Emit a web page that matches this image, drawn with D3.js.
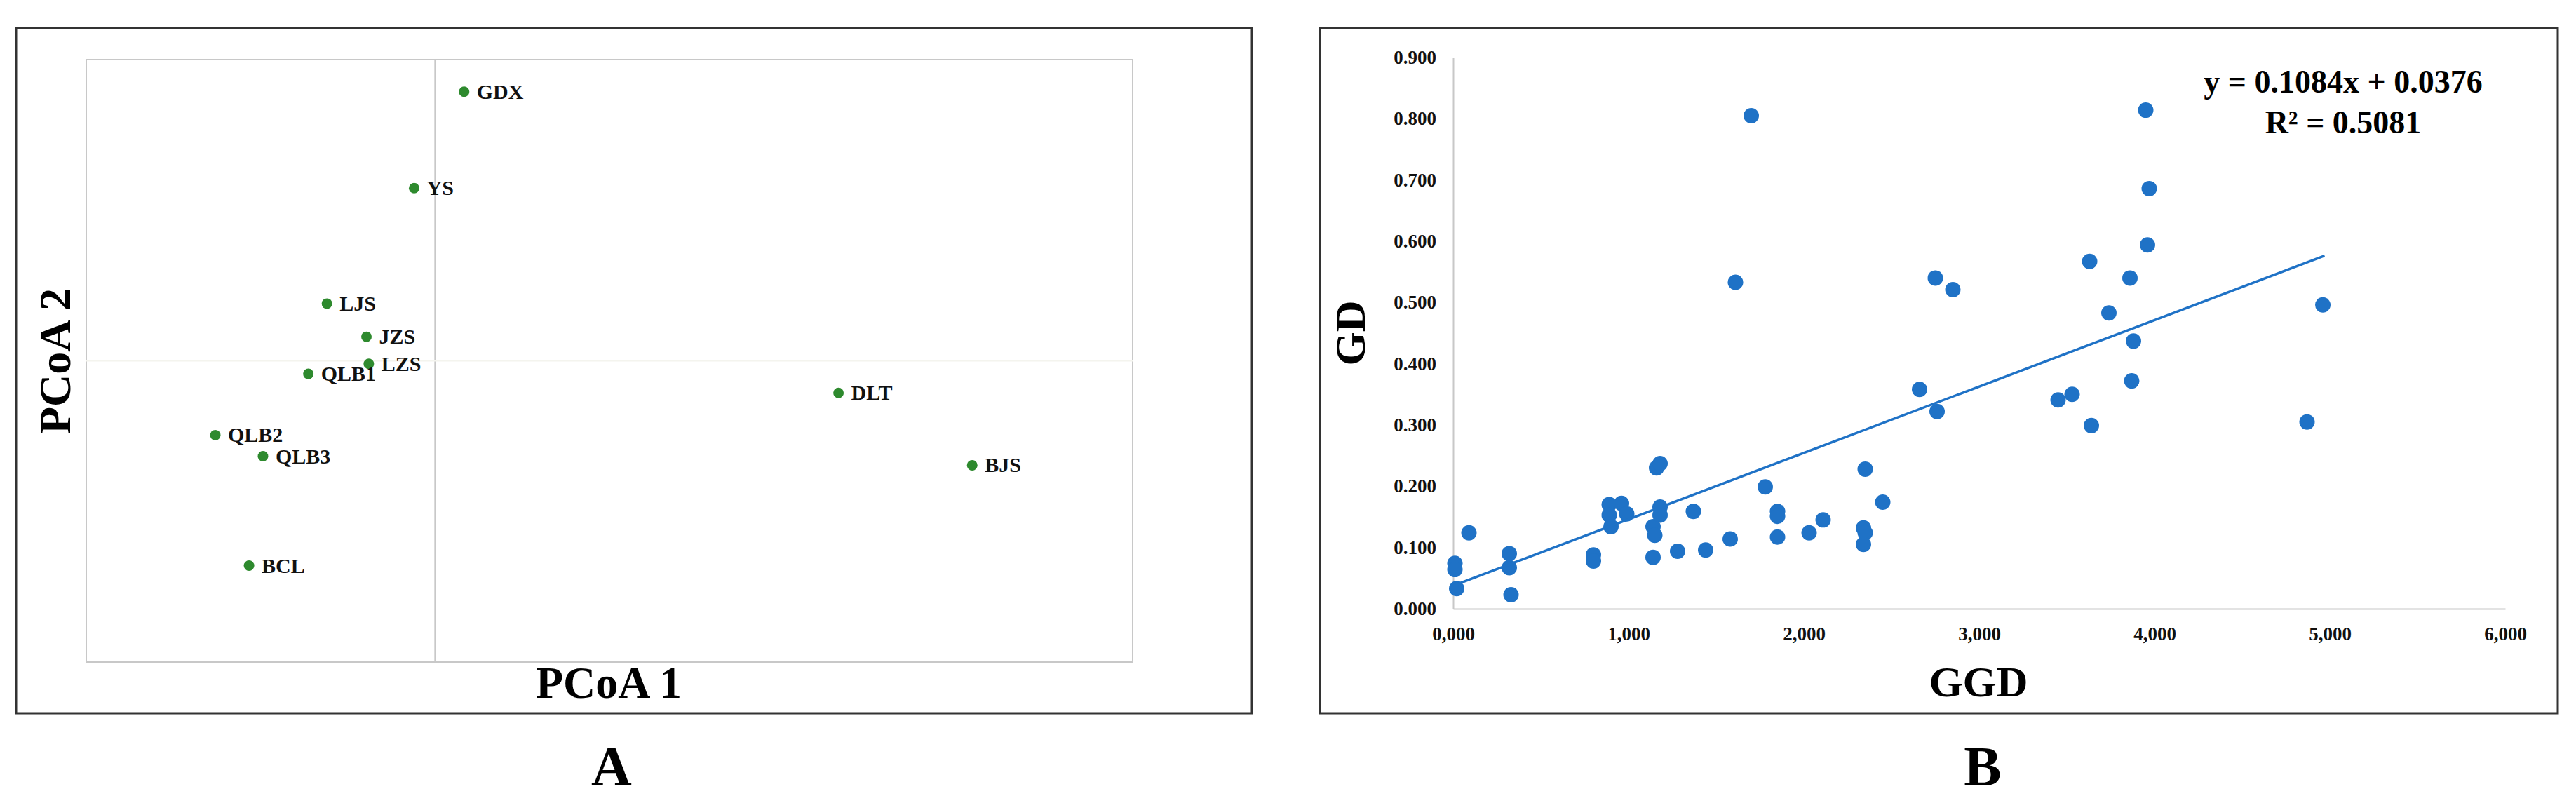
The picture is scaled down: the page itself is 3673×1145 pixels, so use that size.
<!DOCTYPE html>
<html>
<head>
<meta charset="utf-8">
<script src="https://cdn.jsdelivr.net/npm/d3@7"></script>
<style>
  body { margin: 0; background: #fff; }
  text { font-family: "Liberation Serif", "DejaVu Serif", serif; font-weight: bold; }
</style>
</head>
<body>
<svg id="chart" width="3673" height="1145"></svg>
<script>
// Panel A: PCoA coordinates
const sites = ["GDX", "YS", "LJS", "JZS", "LZS", "QLB1", "DLT", "QLB2", "QLB3", "BJS", "BCL"];
const pcoa1 = [0.025, -0.018, -0.093, -0.059, -0.057, -0.109, 0.347, -0.189, -0.148, 0.462, -0.160];
const pcoa2 = [0.268, 0.172, 0.057, 0.024, -0.003, -0.013, -0.032, -0.074, -0.095, -0.104, -0.204];

// Panel B: GGD vs GD
const ggd = [0.01, 0.01, 0.02, 0.09, 0.32, 0.32, 0.33, 0.80, 0.80, 0.89, 0.89, 0.90, 0.96, 0.99,
  1.14, 1.14, 1.15, 1.16, 1.18, 1.18, 1.18, 1.28, 1.37, 1.44, 1.58, 1.61, 1.70, 1.78, 1.85, 1.85,
  1.85, 2.03, 2.11, 2.34, 2.35, 2.34, 2.35, 2.45, 2.66, 2.76, 2.75, 2.85, 3.45, 3.53, 3.63, 3.64,
  3.74, 3.86, 3.87, 3.88, 3.95, 3.97, 3.96, 4.87, 4.96];
const gd = [0.074, 0.064, 0.033, 0.124, 0.090, 0.067, 0.023, 0.088, 0.078, 0.170, 0.153, 0.134, 0.172, 0.155,
  0.084, 0.134, 0.120, 0.230, 0.237, 0.166, 0.153, 0.094, 0.159, 0.096, 0.114, 0.533, 0.805, 0.199, 0.159, 0.151,
  0.117, 0.124, 0.145, 0.132, 0.124, 0.105, 0.228, 0.174, 0.358, 0.322, 0.540, 0.521, 0.341, 0.350, 0.567, 0.299,
  0.483, 0.540, 0.372, 0.437, 0.814, 0.686, 0.594, 0.305, 0.496];
const xTicks = [0, 1, 2, 3, 4, 5, 6];
const xTickLabels = ["0,000", "1,000", "2,000", "3,000", "4,000", "5,000", "6,000"];
const yTicks = [0, 0.1, 0.2, 0.3, 0.4, 0.5, 0.6, 0.7, 0.8, 0.9];
const yTickLabels = ["0.000", "0.100", "0.200", "0.300", "0.400", "0.500", "0.600", "0.700", "0.800", "0.900"];
const slope = 0.1084, intercept = 0.0376;
const trendRange = [0, 4.97];

const svg = d3.select("#chart");

// outer frames
[[23, 40, 1785, 1017], [1882, 40, 3647, 1017]].forEach(([x0, y0, x1, y1]) => {
    svg.append("rect").attr("x", x0).attr("y", y0).attr("width", x1 - x0).attr("height", y1 - y0)
        .attr("fill", "none").attr("stroke", "#333").attr("stroke-width", 3);
});

// ---- Panel A ----
const ax = d3.scaleLinear().domain([-0.3, 0.6]).range([123, 1615]);
const ay = d3.scaleLinear().domain([-0.3, 0.3]).range([944, 85]);
const gA = svg.append("g");
gA.append("rect").attr("x", 123).attr("y", 85).attr("width", 1615 - 123).attr("height", 944 - 85)
    .attr("fill", "none").attr("stroke", "#c8c8c8").attr("stroke-width", 2);
gA.append("line").attr("x1", ax(0)).attr("x2", ax(0)).attr("y1", 85).attr("y2", 944)
    .attr("stroke", "#c8c8c8").attr("stroke-width", 2);
gA.append("line").attr("x1", 123).attr("x2", 1615).attr("y1", ay(0)).attr("y2", ay(0))
    .attr("stroke", "#f4f4ee").attr("stroke-width", 2);

const ptsA = sites.map((s, i) => ({ s, x: pcoa1[i], y: pcoa2[i] }));
gA.selectAll("circle").data(ptsA).enter().append("circle")
    .attr("cx", d => ax(d.x)).attr("cy", d => ay(d.y)).attr("r", 7.5)
    .attr("fill", "#2e8a2e");
gA.selectAll("text.lab").data(ptsA).enter().append("text")
    .attr("class", "lab")
    .attr("x", d => ax(d.x) + 18).attr("y", d => ay(d.y) + 10)
    .attr("font-size", 30).attr("fill", "#111")
    .text(d => d.s);

gA.append("text").attr("x", 868).attr("y", 995).attr("text-anchor", "middle")
    .attr("font-size", 64).text("PCoA 1");
gA.append("text").attr("transform", "translate(100,515) rotate(-90)").attr("text-anchor", "middle")
    .attr("font-size", 64).text("PCoA 2");
gA.append("text").attr("x", 872).attr("y", 1120).attr("text-anchor", "middle")
    .attr("font-size", 80).text("A");

// ---- Panel B ----
const bx = d3.scaleLinear().domain([0, 6]).range([2072, 3572]);
const by = d3.scaleLinear().domain([0, 0.9]).range([868, 82]);
const gB = svg.append("g");

const xAxis = d3.axisBottom(bx).tickValues(xTicks).tickSize(0).tickPadding(26)
    .tickFormat((d, i) => xTickLabels[i]);
const yAxis = d3.axisLeft(by).tickValues(yTicks).tickSize(0).tickPadding(24)
    .tickFormat((d, i) => yTickLabels[i]);
gB.append("g").attr("transform", "translate(0,868)").call(xAxis)
    .call(g => g.select(".domain").attr("stroke", "#c8c8c8").attr("stroke-width", 2))
    .selectAll("text").attr("font-size", 27).attr("fill", "#111")
    .attr("font-family", "Liberation Serif").attr("font-weight", "bold");
gB.append("g").attr("transform", "translate(2072,0)").call(yAxis)
    .call(g => g.select(".domain").attr("stroke", "#c8c8c8").attr("stroke-width", 2))
    .selectAll("text").attr("font-size", 27).attr("fill", "#111")
    .attr("font-family", "Liberation Serif").attr("font-weight", "bold");

const ptsB = ggd.map((g, i) => ({ x: g, y: gd[i] }));
gB.selectAll("circle").data(ptsB).enter().append("circle")
    .attr("cx", d => bx(d.x)).attr("cy", d => by(d.y)).attr("r", 11)
    .attr("fill", "#1f72c6");

gB.append("line")
    .attr("x1", bx(trendRange[0])).attr("y1", by(slope * trendRange[0] + intercept))
    .attr("x2", bx(trendRange[1])).attr("y2", by(slope * trendRange[1] + intercept))
    .attr("stroke", "#1f72c6").attr("stroke-width", 3.5);

gB.append("text").attr("x", 3341).attr("y", 132).attr("text-anchor", "middle")
    .attr("font-size", 46).text("y = 0.1084x + 0.0376");
gB.append("text").attr("x", 3341).attr("y", 190).attr("text-anchor", "middle")
    .attr("font-size", 46).text("R² = 0.5081");

gB.append("text").attr("x", 2821).attr("y", 993).attr("text-anchor", "middle")
    .attr("font-size", 62).text("GGD");
gB.append("text").attr("transform", "translate(1946,475) rotate(-90)").attr("text-anchor", "middle")
    .attr("font-size", 62).text("GD");
gB.append("text").attr("x", 2827).attr("y", 1120).attr("text-anchor", "middle")
    .attr("font-size", 80).text("B");
</script>
</body>
</html>
